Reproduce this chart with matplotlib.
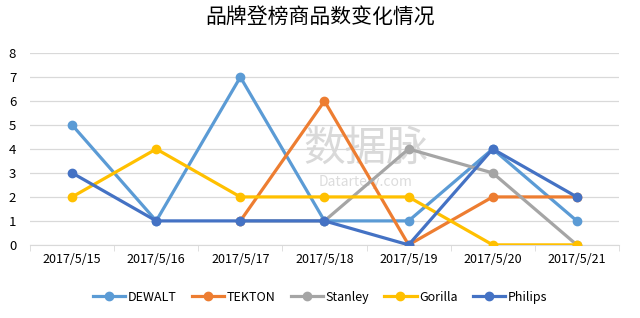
import numpy as np
import matplotlib.pyplot as plt

plt.rcParams['font.family'] = ['Noto Sans CJK SC', 'DejaVu Sans']

dates = ["2017/5/15", "2017/5/16", "2017/5/17", "2017/5/18",
         "2017/5/19", "2017/5/20", "2017/5/21"]

dewalt = [5, 1, 7, 1, 1, 4, 1]
tekton = [np.nan, np.nan, 1, 6, 0, 2, 2]
stanley = [np.nan, np.nan, 1, 1, 4, 3, 0]
gorilla = [2, 4, 2, 2, 2, 0, 0]
philips = [3, 1, 1, 1, 0, 4, 2]

series = [
    ("DEWALT", dewalt, "#5B9BD5"),
    ("TEKTON", tekton, "#ED7D31"),
    ("Stanley", stanley, "#A5A5A5"),
    ("Gorilla", gorilla, "#FFC000"),
    ("Philips", philips, "#4472C4"),
]

fig = plt.figure(figsize=(6.4, 3.18), dpi=100)
ax = fig.add_axes([0.047, 0.23, 0.92, 0.603])

x = np.arange(len(dates))

# 水印
ax.text(0.57, 0.50, "数据脉", transform=ax.transAxes, fontsize=30,
        color="#d9d9d9", ha="center", va="center", zorder=1)
ax.text(0.57, 0.33, "Datartery.com", transform=ax.transAxes, fontsize=10,
        color="#dcdcdc", ha="center", va="center", zorder=1)

for nombre, valores, color in series:
    ax.plot(x, valores, color=color, linewidth=2.3, marker="o",
            markersize=6, label=nombre, zorder=3)

ax.set_xlim(-0.5, len(dates) - 0.5)
ax.set_ylim(0, 8)
ax.set_yticks(range(0, 9))
ax.set_xticks(x)
ax.set_xticklabels(dates, fontweight="medium")
ax.set_xticks(np.arange(-0.5, len(dates), 1), minor=True)

ax.grid(axis="y", color="#d9d9d9", linewidth=0.9, zorder=0)
for lado in ["top", "right", "left"]:
    ax.spines[lado].set_visible(False)
ax.spines["bottom"].set_color("#d9d9d9")

ax.tick_params(axis="y", length=0, labelsize=9.5, pad=10)
ax.tick_params(axis="x", which="major", length=0, labelsize=9, pad=6)
ax.tick_params(axis="x", which="minor", length=4, color="#d9d9d9")
for t in ax.get_yticklabels():
    t.set_fontweight("medium")

fig.text(0.5, 0.945, "品牌登榜商品数变化情况", ha="center", va="center",
         fontsize=15)

fig.legend(loc="center", bbox_to_anchor=(0.5, 0.065), ncol=5,
           frameon=False, fontsize=9, handlelength=2.6, columnspacing=1.2,
           handletextpad=0.2)

fig.savefig("out.png", dpi=100)
